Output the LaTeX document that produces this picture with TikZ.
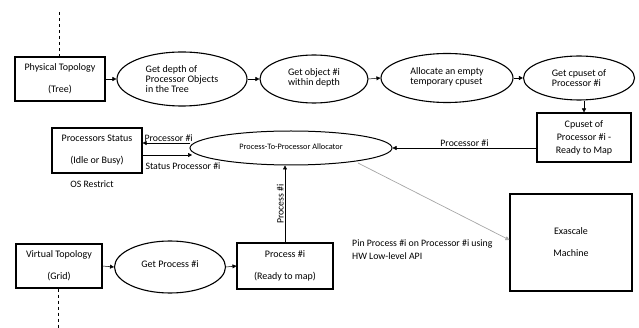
\documentclass[tikz,border=0pt]{standalone}
\usepackage{fontspec}
\setmainfont{Carlito}
\usetikzlibrary{shapes.geometric,arrows.meta}
\begin{document}
\begin{tikzpicture}[x=1pt,y=-1pt,
  font=\fontsize{10}{10}\selectfont,
  boxn/.style={draw,line width=1.1pt,rectangle,inner sep=0pt,align=center},
  elln/.style={draw,line width=1.1pt,ellipse,inner sep=0pt,align=left},
  arr/.style={line width=0.5pt,-{Triangle[length=4pt,width=4pt]}},
  lbl/.style={inner sep=1pt,font=\fontsize{9.8}{12}\selectfont}]
\useasboundingbox (0,0) rectangle (639,328);
% top row
\node[boxn,minimum width=90pt,minimum height=44pt] (pt) at (60,79) {Physical Topology\\[12pt](Tree)};
\node[elln,minimum width=130pt,minimum height=54pt] (e1) at (182,79) {Get depth of\\Processor Objects\\in the Tree};
\node[elln,minimum width=108pt,minimum height=48pt] (e2) at (314,79) {\raisebox{3pt}{\begin{tabular}{@{}l@{}}Get object \#i\\within depth\end{tabular}}};
\node[elln,minimum width=132pt,minimum height=49pt] (e3) at (447,78) {\raisebox{4pt}{\begin{tabular}{@{}l@{}}Allocate an empty\\temporary cpuset\end{tabular}}};
\node[elln,minimum width=111pt,minimum height=44pt] (e4) at (579,78) {Get cpuset of\\Processor \#i};
\node[boxn,minimum width=94pt,minimum height=49pt] (cs) at (584,137.5) {Cpuset of\\[3pt]Processor \#i -\\[3pt]Ready to Map};
% middle
\node[elln,line width=1pt,minimum width=202pt,minimum height=34pt,font=\fontsize{8.3}{8}\selectfont] (al) at (291,148) {\raisebox{2pt}{Process-To-Processor Allocator}};
\node[boxn,minimum width=90pt,minimum height=45pt] (ps) at (97,150.5) {Processors Status\\[12pt](Idle or Busy)};
\node[lbl] (os) at (92,184) {OS Restrict};
% bottom
\node[boxn,minimum width=86pt,minimum height=44pt] (vt) at (59,266) {Virtual Topology\\[12pt](Grid)};
\node[elln,minimum width=111pt,minimum height=52pt] (gp) at (170,267) {\raisebox{5pt}{Get Process \#i}};
\node[boxn,minimum width=96pt,minimum height=46pt] (pr) at (285,266) {Process \#i\\[12pt](Ready to map)};
\node[boxn,minimum width=122pt,minimum height=97pt] (ex) at (571,242.5) {Exascale\\[12pt]Machine};
\node[lbl,align=left,anchor=north west,font=\fontsize{9.8}{13}\selectfont] (pin) at (351,239) {Pin Process \#i on Processor \#i using\\HW Low-level API};
% dashed lines
\coordinate (d1) at (59,12);
\draw[dashed,line width=0.6pt] (d1) -- (pt.north -| d1);
\coordinate (d2) at (58,328);
\draw[dashed,line width=0.6pt] (vt.south -| d2) -- (d2);
% arrows top row
\draw[arr] (pt.east) -- (e1.west);
\draw[arr] (e1.east) -- (e2.west);
\draw[arr] (e2.east) -- (e3.west);
\draw[arr] (e3.east) -- (e4.west);
\draw[arr] (e4.south -| cs.north) -- (cs.north);
% cpuset to allocator
\draw[arr] (cs.west |- al.east) -- node[lbl,above] {Processor \#i} (al.east);
% allocator <-> status
\coordinate (a1) at (190,143);
\coordinate (a2) at (192,155);
\draw[arr] (a1) -- node[lbl,above,pos=0.45] {Processor \#i} (ps.east |- a1);
\draw[arr] (ps.east |- a2) -- (a2);
\node[lbl] (spl) at (183,166) {Status Processor \#i};
% bottom row
\draw[arr] (vt.east) -- (gp.west);
\draw[arr] (gp.east) -- (pr.west);
\draw[arr] (pr.north) -- node[lbl,rotate=90,above] {Process \#i} (pr.north |- al.south);
% to exascale
\coordinate (g1) at (358,163);
\draw[arr,draw=gray!70,line width=0.7pt] (g1) -- (ex.west |- 0,240);
\end{tikzpicture}
\end{document}
